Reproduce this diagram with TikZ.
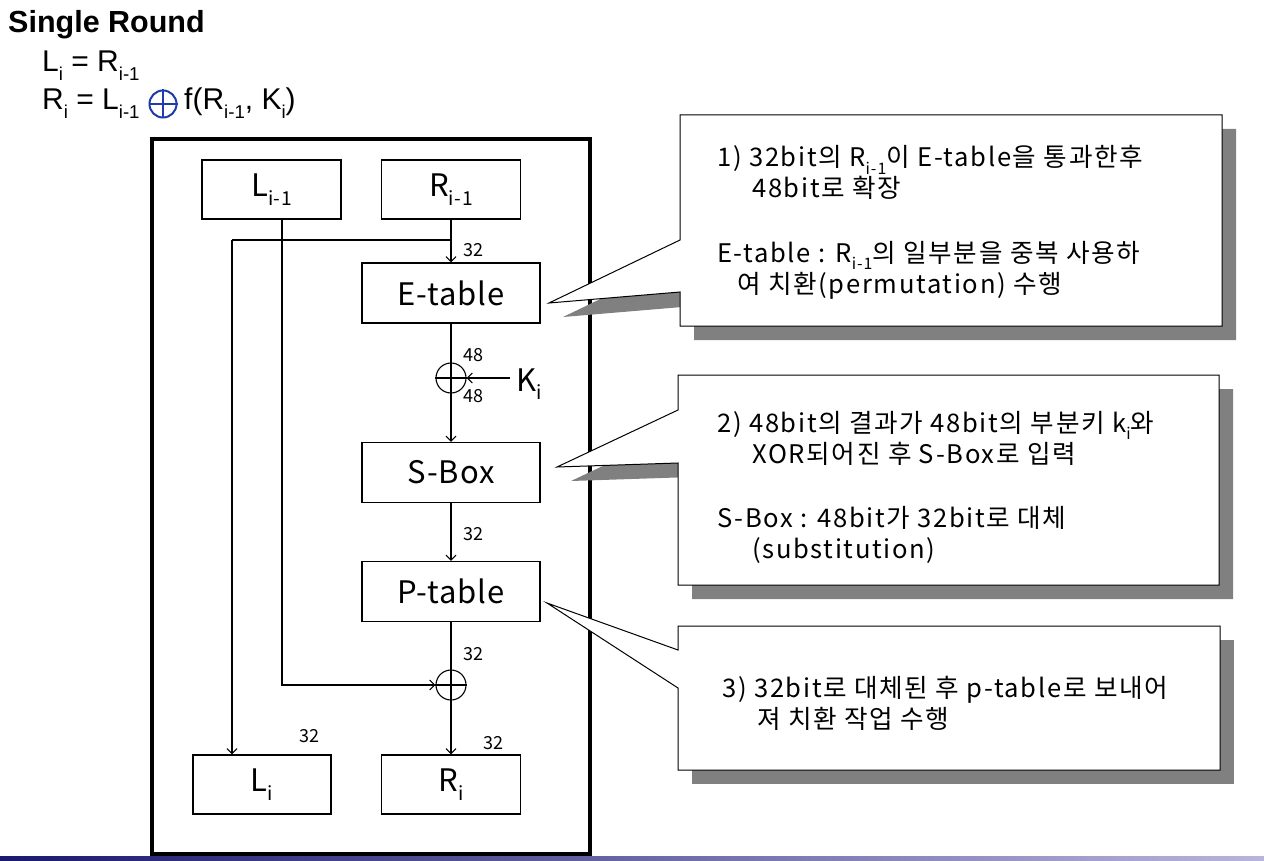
\documentclass[tikz,border=0pt]{standalone}
\usepackage{fontspec}
\setmainfont{Liberation Sans}
\newfontfamily\kr{Noto Sans CJK KR}
\newfontfamily\krw[LetterSpace=6.5]{Noto Sans CJK KR}
\newfontfamily\krd[LetterSpace=3]{Noto Sans CJK KR}
\usetikzlibrary{arrows.meta}
\newcommand\sbs[1]{\raisebox{-0.28em}{\scalebox{0.62}{#1}}}
\definecolor{xorblue}{RGB}{30,60,170}
\definecolor{shade}{RGB}{128,128,128}
\definecolor{barL}{RGB}{25,25,110}
\definecolor{barR}{RGB}{185,180,220}
\begin{document}
\begin{tikzpicture}[x=1pt,y=-1pt,
  blk/.style={draw, line width=1.3pt, minimum width=139pt, minimum height=59pt, inner sep=0, font=\krd\fontsize{31}{34}\selectfont},
  wblk/.style={blk, minimum width=178pt, minimum height=60pt},
  num/.style={font=\kr\fontsize{18}{20}\selectfont, inner sep=0},
  arr/.style={-{Straight Barb[length=5pt,width=10pt]}, line width=1.1pt},
  ln/.style={line width=1.1pt},
  xr/.style={circle, draw, line width=1.1pt, minimum size=30pt, inner sep=0},
  ctxt/.style={anchor=base west, inner sep=0, font=\krw\fontsize{25.6}{28}\selectfont},
  callout/.style={draw, fill=white, line width=1pt},
  shadowfill/.style={fill=shade, draw=none},
  eqt/.style={anchor=base west, inner sep=0, font=\fontsize{30}{33}\selectfont}]
\useasboundingbox (0,0) rectangle (1264,861);

% title and equations
\node[anchor=base west, inner sep=0, font=\bfseries\fontsize{30.5}{34}\selectfont] (title) at (8,33) {Single Round};
\node[eqt] (eq1) at (42,72) {L\sbs{i} = R\sbs{i-1}};
\node[eqt] (eq2a) at (42,110) {R\sbs{i} = L\sbs{i-1}};
\node[circle, draw=xorblue, line width=2pt, minimum size=27pt, inner sep=0] (bx) at (163,104) {};
\draw[xorblue, line width=2pt] (bx.west) -- (bx.east) (bx.north) -- (bx.south);
\node[eqt] (eq2b) at (184,110) {f(R\sbs{i-1}, K\sbs{i})};

% outer frame
\node[draw, line width=4pt, minimum width=438pt, minimum height=715pt, inner sep=0] (frame) at (371,496.5) {};

% blocks
\node[blk] (Lp) at (271.5,189.5) {L\sbs{i-1}};
\node[blk] (Rp) at (451,189.5) {R\sbs{i-1}};
\node[wblk] (E) at (451,293) {E-table};
\node[wblk] (S) at (451,472.5) {S-Box};
\node[wblk] (P) at (451,591.5) {P-table};
\node[blk, minimum width=138pt] (Li) at (262,784.5) {L\sbs{i}};
\node[blk] (Ri) at (451,784.5) {R\sbs{i}};

\node[xr] (X1) at (451,378) {};
\node[xr] (X2) at (451,685) {};
\node[inner sep=0, font=\kr\fontsize{31}{34}\selectfont, anchor=base west] (K) at (516,391) {K\sbs{i}};
\coordinate (kin) at (510,378);
\coordinate (br) at (451,240);
\coordinate (lc) at (232,240);

% connectors
\draw[arr] (Rp.south) -- (E.north);
\draw[ln] (br) -- (lc);
\draw[arr] (lc) -- (lc |- Li.north);
\draw[ln] (E.south) -- (X1.north);
\draw[ln] (X1.north) -- (X1.south) (X1.west) -- (X1.east);
\draw[arr] (kin) -- (X1.east);
\draw[arr] (X1.south) -- (S.north);
\draw[arr] (S.south) -- (P.north);
\draw[ln] (P.south) -- (X2.north);
\draw[ln] (X2.north) -- (X2.south) (X2.west) -- (X2.east);
\draw[arr] ([xshift=10.5pt]Lp.south) |- (X2.west);
\draw[arr] (X2.south) -- (Ri.north);

% bit widths
\node[num] (n1) at (473,250) {32};
\node[num] (n2) at (473,355) {48};
\node[num] (n3) at (473,396) {48};
\node[num] (n4) at (473,534) {32};
\node[num] (n5) at (473,654) {32};
\node[num] (n6) at (309,736) {32};
\node[num] (n7) at (493,743) {32};

% callout 1
\fill[shadowfill, shift={(14,14)}] (680,115) -- (1222,115) -- (1222,326) -- (680,326) -- (680,292) -- (549,303) -- (680,240) -- cycle;
\draw[callout] (680,115) -- (1222,115) -- (1222,326) -- (680,326) -- (680,292) -- (549,303) -- (680,240) -- cycle;
\node[ctxt] (c1a) at (717,167) {1) 32bit의 R\sbs{i-1}이 E-table을 통과한후};
\node[ctxt] (c1b) at (752,198) {48bit로 확장};
\node[ctxt] (c1c) at (717,262) {E-table : R\sbs{i-1}의 일부분을 중복 사용하};
\node[ctxt] (c1d) at (737,293) {여 치환(permutation) 수행};

% callout 2
\fill[shadowfill, shift={(14,14)}] (678,375) -- (1219,375) -- (1219,585) -- (678,585) -- (678,463) -- (557,467) -- (678,410) -- cycle;
\draw[callout] (678,375) -- (1219,375) -- (1219,585) -- (678,585) -- (678,463) -- (557,467) -- (678,410) -- cycle;
\node[ctxt] (c2a) at (717,432) {2) 48bit의 결과가 48bit의 부분키 k\sbs{i}와};
\node[ctxt] (c2b) at (752,463) {XOR되어진 후 S-Box로 입력};
\node[ctxt] (c2c) at (717,527) {S-Box : 48bit가 32bit로 대체};
\node[ctxt] (c2d) at (752,558) {(substitution)};

% callout 3
\fill[shadowfill] (692,640) rectangle (1234,784);
\draw[callout] (678,626) -- (1220,626) -- (1220,770) -- (678,770) -- (678,688) -- (547,603) -- (678,650) -- cycle;
\node[ctxt] (c3a) at (722,697) {3) 32bit로 대체된 후 p-table로 보내어};
\node[ctxt] (c3b) at (757,728) {져 치환 작업 수행};

% bottom bar
\shade[left color=barL, right color=barR] (0,856) rectangle (1264,861);
\end{tikzpicture}
\end{document}
